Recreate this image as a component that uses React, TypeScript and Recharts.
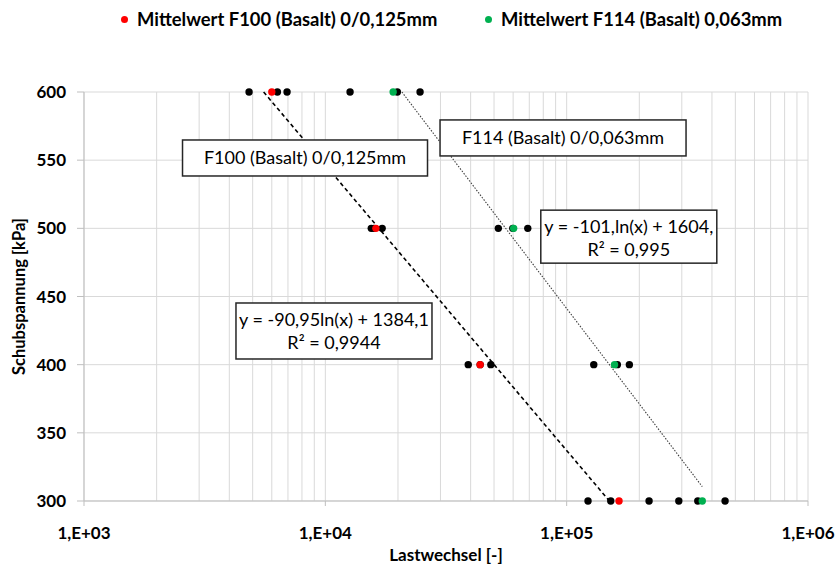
import { ScatterChart, Scatter, XAxis, YAxis, CartesianGrid, ReferenceDot } from "recharts";

// Schubspannung levels (kPa), top to bottom
const stressLevels = [600, 500, 400, 300];

// single tests (Lastwechsel) per stress level
const f100Runs = [
  [4830, 6330, 6940],
  [15500, 15900, 17200],
  [39100, 43800, 48500],
  [122600, 152300, 219500],
];
const f114Runs = [
  [12660, 19880, 24690],
  [52100, 59800, 69000],
  [129500, 162200, 181900],
  [291500, 349400, 453300],
];

// mean values per stress level
const f100Mean = [6000, 16200, 43800, 164800];
const f114Mean = [19100, 60300, 157900, 364700];

// log trend lines (start / end)
const f100TrendX = [5550, 150300];
const f100TrendY = [600, 300];
const f114TrendX = [20760, 364700];
const f114TrendY = [600, 310.5];

const xTicks = [
  1000, 2000, 3000, 4000, 5000, 6000, 7000, 8000, 9000,
  10000, 20000, 30000, 40000, 50000, 60000, 70000, 80000, 90000,
  100000, 200000, 300000, 400000, 500000, 600000, 700000, 800000, 900000,
  1000000,
];
const decadeTicks = [1000, 10000, 100000, 1000000];
const decadeLabels = ["1,E+03", "1,E+04", "1,E+05", "1,E+06"];
const yTicks = [300, 350, 400, 450, 500, 550, 600];

const legendNames = ["Mittelwert F100 (Basalt) 0/0,125mm", "Mittelwert F114 (Basalt) 0,063mm"];

const FONT = "Lato, 'Noto Sans', sans-serif";
const GRID = "#d9d9d9";
const AXIS = "#bfbfbf";
const RED = "#ff0000";
const GREEN = "#00b050";

// text boxes, anchored at data coordinates
const boxes = [
  { x: 8238, y: 551.6, w: 245, h: 36, lines: ["F100 (Basalt) 0/0,125mm"] },
  { x: 96600, y: 566.3, w: 246, h: 36, lines: ["F114 (Basalt) 0/0,063mm"] },
  { x: 180900, y: 493.9, w: 176, h: 53, lines: ["y = -101,ln(x) + 1604,", "R² = 0,995"] },
  { x: 10860, y: 424.7, w: 196, h: 56, lines: ["y = -90,95ln(x) + 1384,1", "R² = 0,9944"] },
];

const runPoints = (runs: number[][]) =>
  runs.flatMap((row, i) => row.map((x) => ({ x, y: stressLevels[i] })));
const meanPoints = (means: number[]) => means.map((x, i) => ({ x, y: stressLevels[i] }));
const trendPoints = (xs: number[], ys: number[]) => xs.map((x, i) => ({ x, y: ys[i] }));

const dot = (fill: string) => (props: any) =>
  <circle cx={props.cx} cy={props.cy} r={3.7} fill={fill} />;

const noDot = () => <g />;

const XTick = (props: any) => {
  const { x, y, payload } = props;
  const idx = decadeTicks.indexOf(payload.value);
  if (idx < 0) return <g />;
  return (
    <g>
      <line x1={x} x2={x} y1={y} y2={y + 5} stroke={AXIS} />
      <text x={x} y={y + 38} textAnchor="middle" fontFamily={FONT} fontWeight={700} fontSize={17} fill="#000">
        {decadeLabels[idx]}
      </text>
    </g>
  );
};

const boxShape = (b: (typeof boxes)[number]) => (props: any) => {
  const { cx, cy } = props;
  const top = cy - b.h / 2;
  const first = b.lines.length === 1 ? cy + 6.5 : top + 23;
  return (
    <g>
      <rect x={cx - b.w / 2} y={top} width={b.w} height={b.h} fill="#fff" stroke="#262626" strokeWidth={1.5} />
      {b.lines.map((t, i) => (
        <text key={i} x={cx} y={first + i * 23} textAnchor="middle" fontFamily={FONT} fontSize={18} fill="#000">
          {t}
        </text>
      ))}
    </g>
  );
};

export default function App() {
  return (
    <div style={{ position: "absolute", left: 0, top: 0, width: 837, height: 565, background: "#fff", fontFamily: FONT }}>
      {[RED, GREEN].map((c, i) => (
        <div
          key={c}
          style={{
            position: "absolute",
            left: i === 0 ? 121 : 485,
            top: 7,
            height: 24,
            display: "flex",
            alignItems: "center",
            fontWeight: 700,
            fontSize: 18.4,
            color: "#000",
            whiteSpace: "nowrap",
          }}
        >
          <span style={{ width: 7, height: 7, borderRadius: 4, background: c, marginRight: 9 }} />
          {legendNames[i]}
        </div>
      ))}
      <ScatterChart width={837} height={565} margin={{ top: 92, right: 29, bottom: 0, left: 0 }}>
        <CartesianGrid stroke={GRID} strokeWidth={1} />
        <XAxis
          dataKey="x"
          type="number"
          scale="log"
          domain={[1000, 1000000]}
          ticks={xTicks}
          interval={0}
          allowDataOverflow
          height={64}
          tickLine={false}
          tickSize={0}
          tickMargin={0}
          axisLine={{ stroke: AXIS }}
          tick={<XTick />}
          label={{
            content: (p: any) => (
              <text x={p.viewBox.x + p.viewBox.width / 2} y={561} textAnchor="middle" fontFamily={FONT} fontWeight={700} fontSize={17} fill="#000">
                Lastwechsel [-]
              </text>
            ),
          }}
        />
        <YAxis
          dataKey="y"
          type="number"
          domain={[300, 600]}
          ticks={yTicks}
          interval={0}
          width={84}
          tickSize={7}
          tickMargin={11}
          tickLine={{ stroke: AXIS }}
          axisLine={{ stroke: AXIS }}
          tick={{ fontFamily: FONT, fontWeight: 700, fontSize: 17, fill: "#000" }}
          label={{
            content: (p: any) => {
              const cy = p.viewBox.y + p.viewBox.height / 2;
              return (
                <text x={25} y={cy} transform={`rotate(-90 25 ${cy})`} textAnchor="middle" fontFamily={FONT} fontWeight={700} fontSize={16.5} fill="#000">
                  Schubspannung [kPa]
                </text>
              );
            },
          }}
        />
        <Scatter
          data={trendPoints(f100TrendX, f100TrendY)}
          line={{ stroke: "#000", strokeWidth: 1.6, strokeDasharray: "4 3" }}
          shape={noDot}
          legendType="none"
          isAnimationActive={false}
        />
        <Scatter
          data={trendPoints(f114TrendX, f114TrendY)}
          line={{ stroke: "#404040", strokeWidth: 1.1, strokeDasharray: "1.5 1.5" }}
          shape={noDot}
          legendType="none"
          isAnimationActive={false}
        />
        <Scatter data={runPoints(f100Runs)} shape={dot("#000")} isAnimationActive={false} />
        <Scatter data={runPoints(f114Runs)} shape={dot("#000")} isAnimationActive={false} />
        <Scatter name={legendNames[0]} data={meanPoints(f100Mean)} shape={dot(RED)} isAnimationActive={false} />
        <Scatter name={legendNames[1]} data={meanPoints(f114Mean)} shape={dot(GREEN)} isAnimationActive={false} />
        {boxes.map((b, i) => (
          <ReferenceDot key={i} x={b.x} y={b.y} shape={boxShape(b)} ifOverflow="visible" />
        ))}
      </ScatterChart>
    </div>
  );
}
